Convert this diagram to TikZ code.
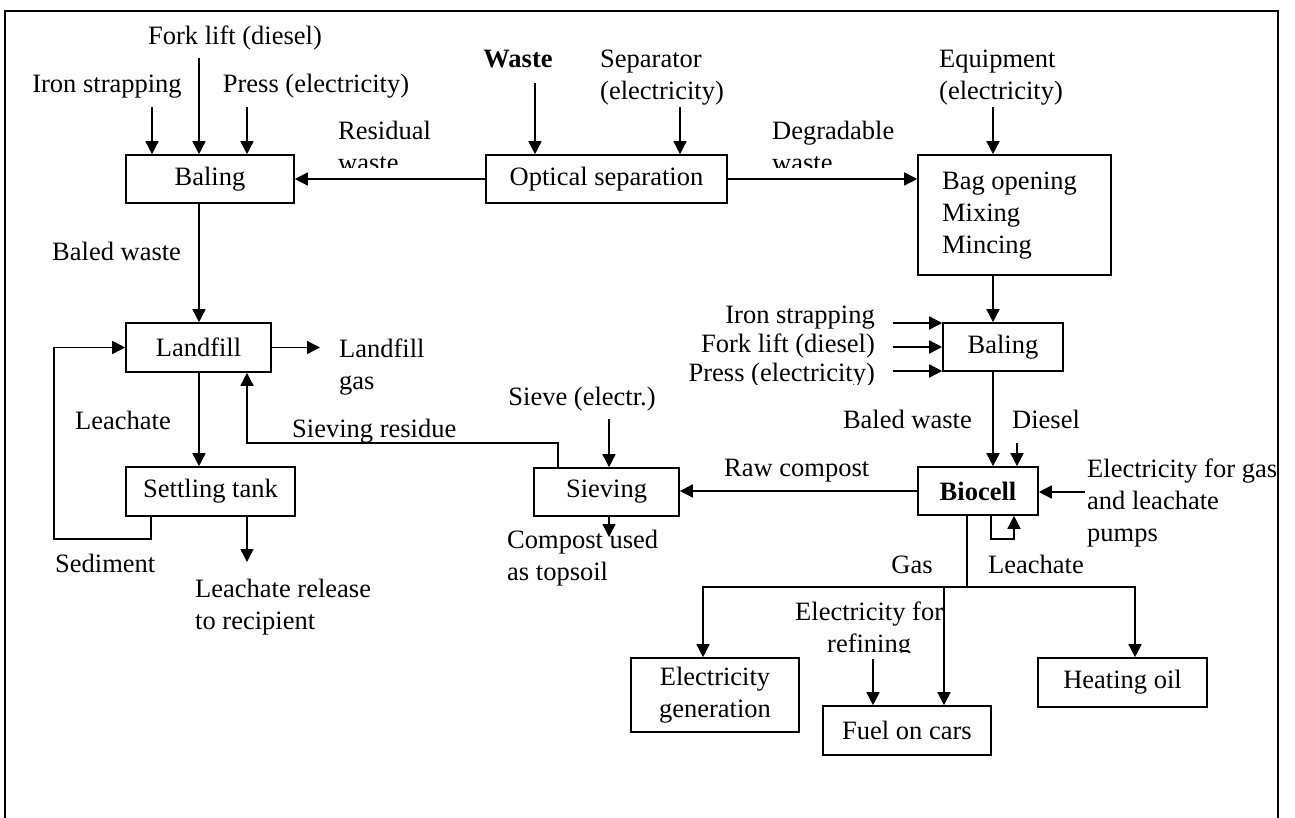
\documentclass[tikz,border=0pt]{standalone}
\usepackage{fontspec}
\setmainfont{Liberation Serif}
\usetikzlibrary{arrows.meta}
% stacked text lines with a baseline at the first line
\newcommand{\lrows}[1]{\begin{tabular}[t]{@{}l@{}}#1\end{tabular}}
\newcommand{\crows}[1]{\begin{tabular}[t]{@{}c@{}}#1\end{tabular}}

\begin{document}
\begin{tikzpicture}[x=1pt,y=-1pt,
  every node/.style={font=\fontsize{26.5}{32}\selectfont, inner sep=0pt},
  proc/.style={draw, line width=1.6pt, minimum height=48pt},
  arr/.style={line width=1.5pt, -{Triangle[length=13pt,width=13pt]}},
  ln/.style={line width=1.5pt},
  txt/.style={anchor=base},
  txtw/.style={anchor=base west},
  txte/.style={anchor=base east},
  bold/.style={font=\fontsize{26.5}{32}\selectfont\bfseries}]

\useasboundingbox (0,0) rectangle (1295,818);
% frame
\draw[line width=2pt] (5,818) -- (5,11) -- (1278,11) -- (1278,818);

% process boxes
\node[proc, minimum width=168pt] (bal1) at (210,179) {Baling};
\node[proc, minimum width=241pt] (opt) at (606.5,179) {Optical separation};
\node[draw, line width=1.6pt, minimum width=193pt, minimum height=120pt,
      xshift=0pt] (bag) at (1014.5,215) {\hspace*{-10pt}\lrows{Bag opening\\Mixing\\Mincing}};
\node[proc, minimum width=120pt] (bal2) at (1003,347) {Baling};
\node[proc, minimum width=145pt, minimum height=49pt] (land) at (198.5,347.5) {Landfill};
\node[proc, minimum width=169pt, minimum height=49pt] (settle) at (210.5,491.5) {Settling tank};
\node[proc, minimum width=145pt] (sieve) at (606.5,492) {Sieving};
\node[proc, bold, minimum width=120pt] (bio) at (978,491) {Biocell};
\node[proc, minimum width=168pt, minimum height=74pt, align=center] (egen) at (715,695) {Electricity\\generation};
\node[proc, minimum width=168pt, minimum height=49pt] (fuel) at (907,730.5) {Fuel on cars};
\node[proc, minimum width=169pt, minimum height=49pt] (heat) at (1122.5,682.5) {Heating oil};

% flow labels
\node[txt] (tFork) at (235,45) {Fork lift (diesel)};
\node[txt] (tIron) at (107,93) {Iron strapping};
\node[txt] (tPress) at (316,93) {Press (electricity)};
\begin{scope}
  \clip (330,110) rectangle (480,168);
  \node[txtw] (tResid) at (338,140) {\lrows{Residual\\waste}};
\end{scope}
\node[txt, bold] (tWaste) at (518,68) {Waste};
\node[txtw] (tSep) at (600,68) {\lrows{Separator\\(electricity)}};
\begin{scope}
  \clip (760,110) rectangle (915,168);
  \node[txtw] (tDegr) at (772,140) {\lrows{Degradable\\waste}};
\end{scope}
\node[txtw] (tEquip) at (939,68) {\lrows{Equipment\\(electricity)}};
\node[txtw] (tBaled1) at (52,261) {Baled waste};
\node[txtw] (tLfGas) at (339,357) {\lrows{Landfill\\gas}};
\node[txt] (tLeach1) at (123,429) {Leachate};
\node[txtw] (tSievRes) at (292,437) {Sieving residue};
\node[txtw] (tSed) at (55,572) {Sediment};
\node[txtw] (tRel) at (195,597) {\lrows{Leachate release\\to recipient}};
\node[txt] (tSieveE) at (582,405) {Sieve (electr.)};
\node[txtw] (tRaw) at (724,476) {Raw compost};
\node[txtw] (tComp) at (507,548) {\lrows{Compost used\\as topsoil}};
\node[txte] (tIron2) at (875,323) {Iron strapping};
\node[txte] (tFork2) at (875,352) {Fork lift (diesel)};
\begin{scope}
  \clip (600,355) rectangle (890,384);
  \node[txte] (tPress2) at (875,381) {Press (electricity)};
\end{scope}
\node[txte] (tBaled2) at (972,428) {Baled waste};
\node[txtw] (tDiesel) at (1012,428) {Diesel};
\begin{scope}
  \clip (1080,440) rectangle (1278,560);
  \node[txtw] (tElPump) at (1087,477) {\lrows{Electricity for gas\\and leachate\\pumps}};
\end{scope}
\node[txt] (tGas) at (912,573) {Gas};
\node[txtw] (tLeach2) at (988,573) {Leachate};
\begin{scope}
  \clip (780,590) rectangle (942,652);
  \node[txtw] (tElRef) at (795,620) {\crows{Electricity for\\refining}};
\end{scope}

% inputs to the first baling step
\coordinate (cFork) at (199,58);
\coordinate (cIron) at (152,107);
\coordinate (cPress) at (247,107);
\draw[arr] (cFork) -- (cFork |- bal1.north);
\draw[arr] (cIron) -- (cIron |- bal1.north);
\draw[arr] (cPress) -- (cPress |- bal1.north);

% optical separation
\coordinate (cWaste) at (535,83);
\coordinate (cSep) at (680,107);
\draw[arr] (cWaste) -- (cWaste |- opt.north);
\draw[arr] (cSep) -- (cSep |- opt.north);
\draw[arr] (opt.west) -- (bal1.east);
\draw[arr] (opt.east) -- (opt.east -| bag.west);

% degradable line
\coordinate (cEquip) at (993,107);
\draw[arr] (cEquip) -- (cEquip |- bag.north);
\draw[arr] (cEquip |- bag.south) -- (cEquip |- bal2.north);
\coordinate (cS1) at (893,323);
\coordinate (cS2) at (893,347);
\coordinate (cS3) at (893,371);
\draw[arr] (cS1) -- (cS1 -| bal2.west);
\draw[arr] (cS2) -- (cS2 -| bal2.west);
\draw[arr] (cS3) -- (cS3 -| bal2.west);
\draw[arr] (cEquip |- bal2.south) -- (cEquip |- bio.north);
\coordinate (cDiesel) at (1017,443);
\draw[arr] (cDiesel) -- (cDiesel |- bio.north);
\coordinate (cPump) at (1085,492);
\draw[arr] (cPump) -- (cPump -| bio.east);
\coordinate (cLoopA) at (991,539);
\coordinate (cLoopB) at (1014,539);
\draw[arr] (cLoopA |- bio.south) -- (cLoopA) -- (cLoopB) -- (cLoopB |- bio.south);

% sieving
\draw[arr] (bio.west) -- (bio.west -| sieve.east);
\coordinate (cSieveE) at (609,419);
\draw[arr] (cSieveE) -- (cSieveE |- sieve.north);
\coordinate (cRes) at (558,443);
\coordinate (cResL) at (247,443);
\draw[arr] (cRes |- sieve.north) -- (cRes) -- (cResL) -- (cResL |- land.south);
\coordinate (cComp) at (609,537);
\draw[arr] (cComp |- sieve.south) -- (cComp);

% landfill line
\draw[arr] (cFork |- bal1.south) -- (cFork |- land.north);
\coordinate (cLfGas) at (320,347.5);
\draw[arr] (land.east) -- (cLfGas);
\draw[arr] (cFork |- land.south) -- (cFork |- settle.north);
\coordinate (cSedA) at (151,539);
\coordinate (cSedB) at (54,539);
\draw[arr] (cSedA |- settle.south) -- (cSedA) -- (cSedB) -- (cSedB |- land.west) -- (land.west);
\coordinate (cRel) at (247,562);
\draw[arr] (cRel |- settle.south) -- (cRel);

% gas use
\coordinate (cGasJ) at (967,587);
\coordinate (cGasL) at (703,587);
\coordinate (cGasM) at (944,587);
\coordinate (cGasR) at (1135,587);
\draw[ln] (cGasJ |- bio.south) -- (cGasJ);
\draw[arr] (cGasR) -- (cGasL) -- (cGasL |- egen.north);
\draw[arr] (cGasL) -- (cGasR) -- (cGasR |- heat.north);
\draw[arr] (cGasM) -- (cGasM |- fuel.north);
\coordinate (cRef) at (873,659);
\draw[arr] (cRef) -- (cRef |- fuel.north);

\end{tikzpicture}
\end{document}
